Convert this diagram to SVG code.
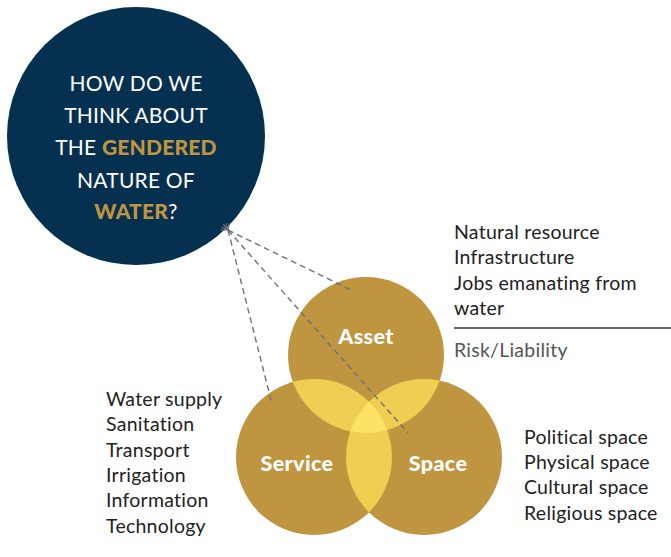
<svg xmlns="http://www.w3.org/2000/svg" width="671" height="557" viewBox="0 0 671 557">
<style>
.q{font-family:Lato,"Open Sans","Liberation Sans",sans-serif;font-size:21px;fill:#fff;text-anchor:middle;letter-spacing:0.2px}
.g{fill:#c0953f;font-weight:900}
.lbl{font-family:Lato,"Open Sans","Liberation Sans",sans-serif;font-size:21.5px;font-weight:900;fill:#fff;text-anchor:middle;letter-spacing:0.4px}
.t{font-family:Lato,"Open Sans","Liberation Sans",sans-serif;font-size:19.5px;fill:#222;letter-spacing:0.25px}
.dash{stroke:#6c7180;stroke-width:1.4;stroke-dasharray:6 4;fill:none;marker-start:url(#ah)}
</style>
<defs>
<marker id="ah" viewBox="0 0 10 10" refX="1" refY="5" markerWidth="8" markerHeight="8" markerUnits="userSpaceOnUse" orient="auto-start-reverse">
<path d="M9,1 L1,5 L9,9" fill="none" stroke="#6c7180" stroke-width="1.4"/>
</marker>
<clipPath id="cA"><circle cx="366" cy="355" r="78"/></clipPath>
<clipPath id="cB"><circle cx="314" cy="457" r="78"/></clipPath>
<clipPath id="cC"><circle cx="424" cy="457" r="78"/></clipPath>
</defs>
<rect width="671" height="557" fill="#fff"/>
<g id="question">
<circle cx="136" cy="136" r="129" fill="#06304f"/>
<text class="q" x="136" y="91">HOW DO WE</text>
<text class="q" x="136" y="123">THINK ABOUT</text>
<text class="q" x="136" y="155">THE <tspan class="g">GENDERED</tspan></text>
<text class="q" x="136" y="188">NATURE OF</text>
<text class="q" x="136" y="219"><tspan class="g">WATER</tspan>?</text>
</g>
<g id="venn">
<g id="asset"><circle cx="366" cy="355" r="78" fill="#c0953f"/></g>
<g id="service"><circle cx="314" cy="457" r="78" fill="#c0953f"/></g>
<g id="space"><circle cx="424" cy="457" r="78" fill="#c0953f"/></g>
<g clip-path="url(#cA)"><circle cx="314" cy="457" r="78" fill="#efcf52"/><circle cx="424" cy="457" r="78" fill="#efcf52"/></g>
<g clip-path="url(#cB)"><circle cx="424" cy="457" r="78" fill="#efcf52"/></g>
<g clip-path="url(#cA)"><g clip-path="url(#cB)"><circle cx="424" cy="457" r="78" fill="#fce366"/></g></g>
<text class="lbl" x="366" y="344">Asset</text>
<text class="lbl" x="297" y="471">Service</text>
<text class="lbl" x="438" y="471">Space</text>
</g>
<g id="connectors">
<line class="dash" x1="228" y1="230" x2="353" y2="291"/>
<line class="dash" x1="228" y1="230" x2="408" y2="433"/>
<line class="dash" x1="228" y1="230" x2="272" y2="404"/>
</g>
<g id="asset-notes">
<text class="t" x="454" y="239">Natural resource</text>
<text class="t" x="454" y="264">Infrastructure</text>
<text class="t" x="454" y="290">Jobs emanating from</text>
<text class="t" x="454" y="315">water</text>
<line x1="454" y1="328" x2="671" y2="328" stroke="#333" stroke-width="1.3"/>
<text class="t" x="454" y="357" style="fill:#555">Risk/Liability</text>
</g>
<g id="service-notes">
<text class="t" x="106" y="406">Water supply</text>
<text class="t" x="106" y="431">Sanitation</text>
<text class="t" x="106" y="457">Transport</text>
<text class="t" x="106" y="482">Irrigation</text>
<text class="t" x="106" y="507">Information</text>
<text class="t" x="106" y="533">Technology</text>
</g>
<g id="space-notes">
<text class="t" x="524" y="444">Political space</text>
<text class="t" x="524" y="469">Physical space</text>
<text class="t" x="524" y="494">Cultural space</text>
<text class="t" x="524" y="520">Religious space</text>
</g>
</svg>
